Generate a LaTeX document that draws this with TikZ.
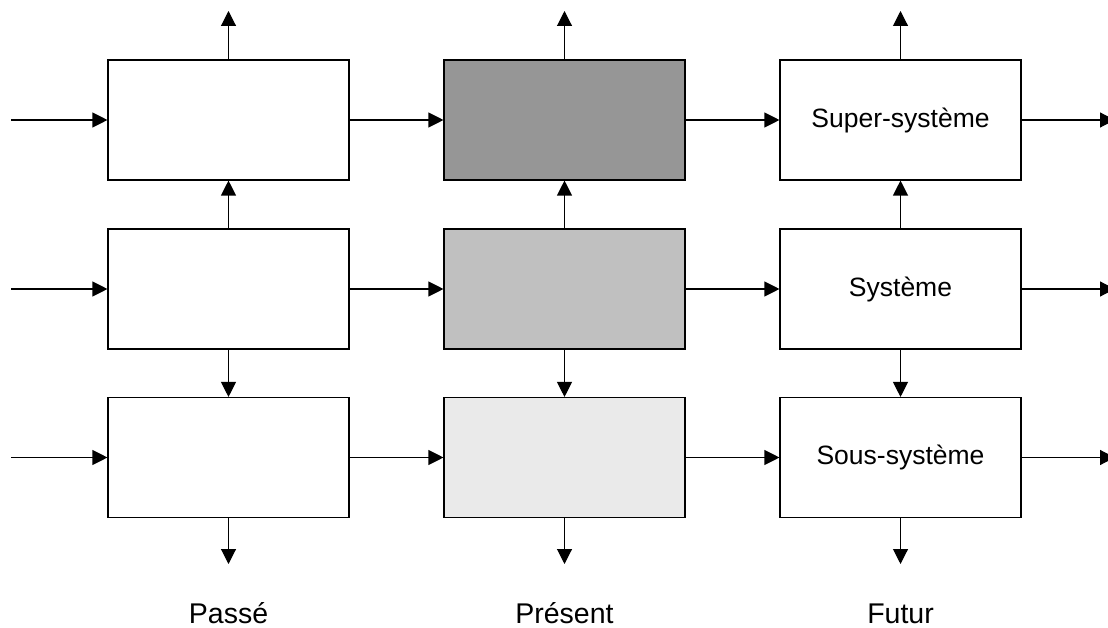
\documentclass[tikz,border=0pt]{standalone}
\usepackage{fontspec}
\setmainfont{Liberation Sans}
\usetikzlibrary{arrows.meta}
\definecolor{fonce}{RGB}{150,150,150}
\definecolor{moyen}{RGB}{192,192,192}
\definecolor{clair}{RGB}{234,234,234}
\tikzset{
  bloc/.style={draw, line width=1.1pt, minimum width=241pt, minimum height=120pt,
    inner sep=0pt, font=\fontsize{26.5}{32}\selectfont},
  fleche/.style={-{Triangle[length=15pt,width=15pt]}, line width=1.1pt},
  legende/.style={anchor=base, inner sep=0pt, text depth=0pt, font=\fontsize{28.5}{34}\selectfont}
}
\begin{document}
\begin{tikzpicture}[x=1pt,y=-1pt]
    \useasboundingbox (0,0) rectangle (1108,628);
    \node[bloc] (P1) at (228.5,120) {};
    \node[bloc] (P2) at (228.5,289) {};
    \node[bloc] (P3) at (228.5,457.5) {};
    \node[bloc,fill=fonce] (N1) at (564.5,120) {};
    \node[bloc,fill=moyen] (N2) at (564.5,289) {};
    \node[bloc,fill=clair] (N3) at (564.5,457.5) {};
    \node[bloc] (F1) at (900.5,120) {Super-système};
    \node[bloc] (F2) at (900.5,289) {Système};
    \node[bloc] (F3) at (900.5,457.5) {Sous-système};
    \node[legende] (LP) at (228.5,623) {Passé};
    \node[legende] (LN) at (564.5,623) {Présent};
    \node[legende] (LF) at (900.5,623) {Futur};
    \foreach \r/\y in {1/120,2/289,3/457.5}{
      \coordinate (E\r) at (11,\y);
      \coordinate (S\r) at (1115,\y);
      \draw[fleche] (E\r) -- (P\r);
      \draw[fleche] (P\r) -- (N\r);
      \draw[fleche] (N\r) -- (F\r);
      \draw[fleche] (F\r) -- (S\r);
    }
    \foreach \col/\x in {P/228.5,N/564.5,F/900.5}{
      \coordinate (\col-h) at (\x,11);
      \coordinate (\col-b) at (\x,564);
      \draw[fleche] (\col1) -- (\col-h);
      \draw[fleche] (\col2) -- (\col1);
      \draw[fleche] (\col2) -- (\col3);
      \draw[fleche] (\col3) -- (\col-b);
    }
\end{tikzpicture}
\end{document}
